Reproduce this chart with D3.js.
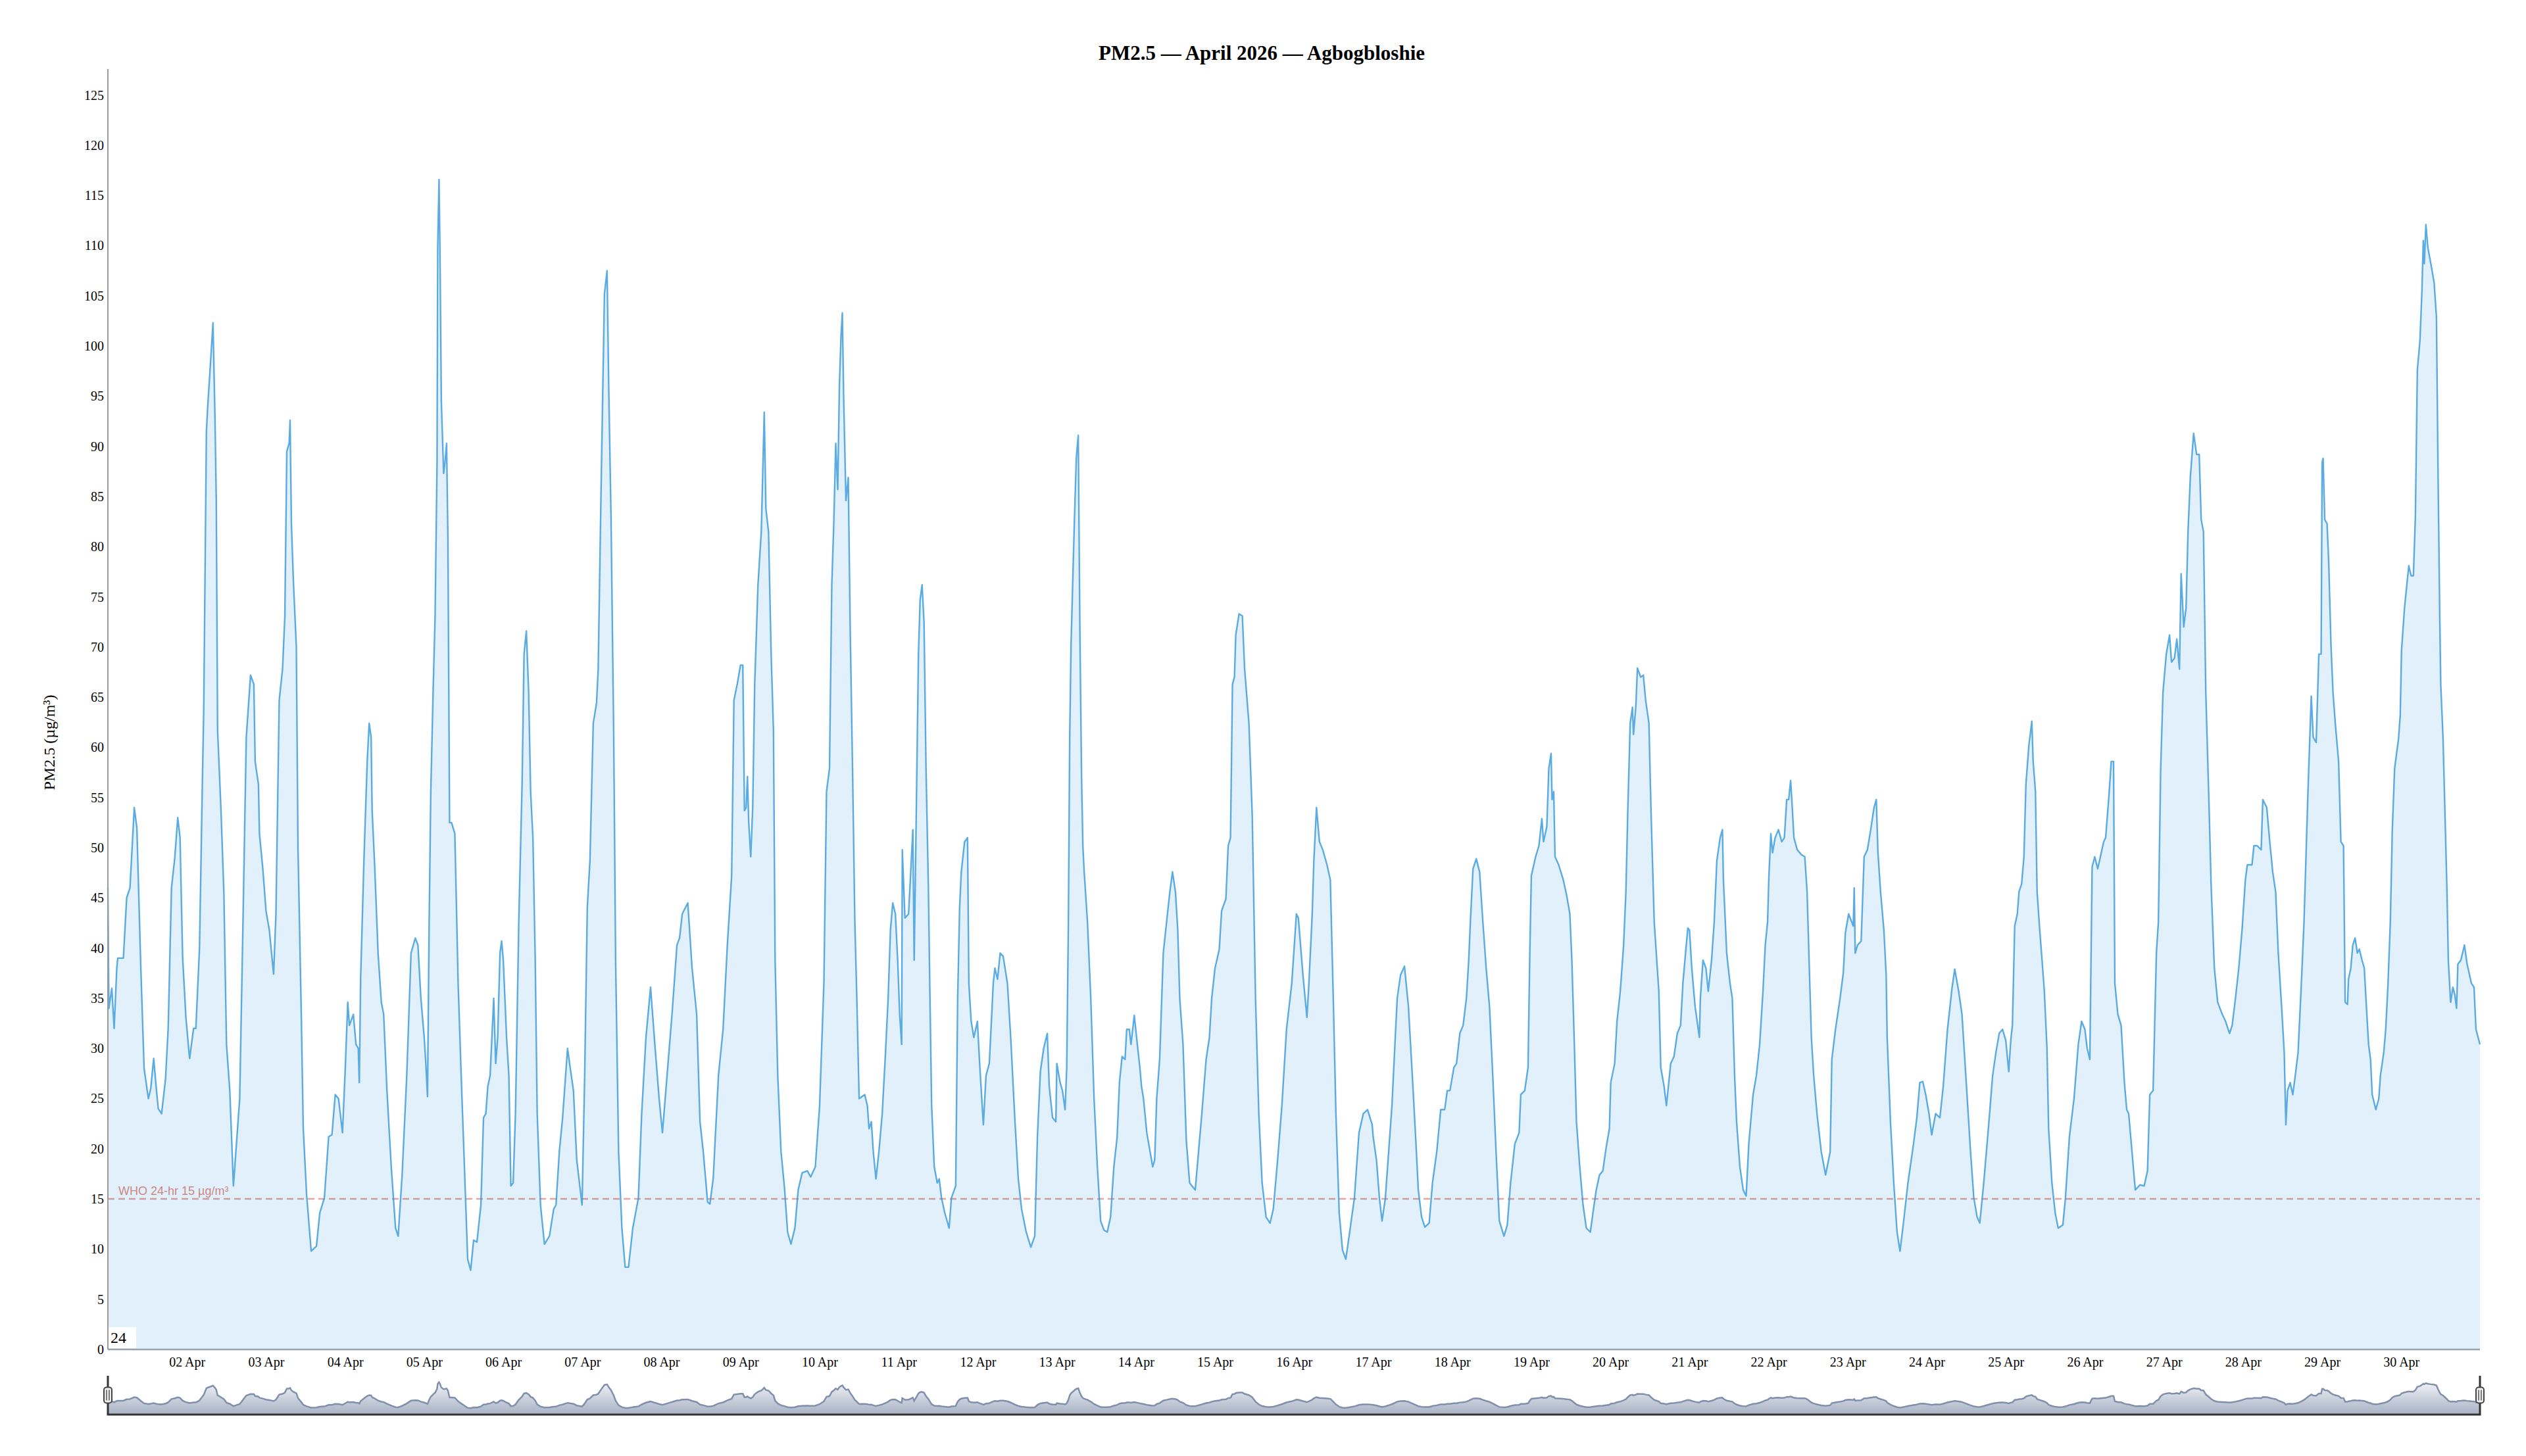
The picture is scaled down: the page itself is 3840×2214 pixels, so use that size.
<!DOCTYPE html>
<html>
<head>
<meta charset="utf-8">
<script src="https://cdn.jsdelivr.net/npm/d3@7"></script>
<style>
    body { margin: 0; background: #fff; }
    svg text { font-family: "Liberation Serif", "Times New Roman", serif; }
</style>
</head>
<body>
<div id="chart"></div>
<script>
"use strict"

/* Readings: [hours since 01 Apr 00:00, PM2.5 in µg/m³] */
const apr01to04 = [[0,46],[0.3,34],[1.2,36],[1.9,32],[2.7,38],[3,39],[4.7,39],[5.7,45],[6.7,46],[8,54],[8.8,52],[10,38],[11,28],[12.3,25],[13,26],[13.9,29],[14.7,26],[15.3,24],[16.3,23.5],[17.5,27],[18.3,32],[19.3,46],[20.3,49],[21.2,53],[21.9,51],[22.7,39],[23.7,33],[24.8,29],[26,32],[26.7,32],[27.8,40],[28.7,57],[29.1,64],[29.9,91.5],[30.3,94],[31,97.6],[31.9,102.3],[32.5,93],[32.9,84.6],[33.3,61.7],[34.3,54],[35.2,45.6],[36,30.4],[37,25.8],[38.1,16.3],[40,25],[41,42.6],[42,61],[43.3,67.2],[44.3,66.3],[44.7,58.6],[45.7,56.3],[46,51.4],[47,48],[48,43.7],[49,41.8],[50.3,37.4],[51,43.4],[51.3,49.8],[52,64.7],[53,67.8],[53.7,73],[54.3,89.5],[55,90.3],[55.3,92.6],[55.7,82.3],[56.3,76.6],[57.2,70],[57.7,50],[58.7,33.4],[59.3,22],[60.3,15.5],[61.7,9.8],[63.3,10.3],[64.3,13.6],[65.7,15.1],[67,21.2],[68,21.4],[69,25.4],[70,25],[71.2,21.6],[72,27.7],[72.8,34.6],[73.3,32.3],[74.5,33.4],[75.3,30.4],[76,30],[76.3,26.6],[76.7,36.9],[77.7,48.7],[78.7,58.6],[79.3,62.4],[79.9,61],[80.2,53.7],[81,48],[82,39.5],[83,34.6],[83.7,33.4],[84.7,25.8],[86,18.2],[87.3,12.1],[88.1,11.3],[89.3,17.4],[90.7,27.3],[92,39.5],[93.3,41],[94.1,40.3],[95,35]];

const apr05to08 = [[96,31.1],[96.5,28.5],[97,25.2],[97.5,42.6],[98,55.6],[98.7,65.5],[99.3,73],[99.9,88.4],[100.1,109.8],[100.5,116.6],[100.8,109],[101.2,94.5],[101.9,87.3],[102.3,88.4],[102.8,90.3],[103.2,80.8],[103.7,52.5],[104.3,52.5],[105.3,51.4],[106.3,36.5],[107.3,26.6],[108.3,17.4],[109.2,9],[110.1,7.9],[111,10.9],[112,10.7],[113.2,14.4],[114,23.1],[114.7,23.5],[115.3,26.2],[116,27.3],[117.1,35],[117.7,28.5],[118.3,31.1],[119,39.5],[119.5,40.7],[120,38.8],[121,31.1],[121.7,27.3],[122.3,16.3],[123,16.6],[123.7,23.5],[124.7,42.6],[125.7,56.3],[126.3,69.3],[127,71.6],[127.7,65.5],[128.3,55.6],[129,51],[129.7,38.8],[130.3,23.5],[131.3,14.4],[132.5,10.5],[134,11.3],[135.3,14],[136,14.4],[137,19.7],[138,23.1],[139.5,30],[140.3,28.1],[141.3,25.8],[142.3,18.9],[143.9,14.4],[144.7,27.3],[145.5,44.1],[146.3,48.7],[147.3,62.4],[148.3,64.4],[148.8,67.8],[149.7,86.1],[150.7,105.2],[151.5,107.5],[152,96],[152.7,83],[153.5,61.7],[154.1,38.8],[155,19.7],[156,12.1],[157,8.2],[158,8.2],[159.3,12.1],[161,15.1],[162,23.5],[163.3,31.1],[164.7,36.1],[166,30.4],[167.3,25],[168.3,21.6],[169.7,27.3],[171.3,33.8],[172.7,40.3],[173.5,41],[174.3,43.4],[176,44.5],[177.3,38],[178.7,33.4],[179.7,22.7],[180.7,19.7],[182,14.7],[182.7,14.5],[183.7,17],[185.3,27.3],[186.7,31.9],[188,40.3],[189.3,47.2],[190,64.7],[191,66.3]];

const apr09to12 = [[192,68.2],[192.7,68.2],[193.2,53.7],[193.7,54],[194.1,57.1],[194.5,52.5],[195.1,49.1],[195.7,54],[196.3,66.3],[197.3,76.2],[198.3,81.5],[199.2,93.4],[199.7,83.8],[200.5,81.5],[201.3,69.3],[202,61.7],[202.5,38.8],[203.3,27.3],[204.3,19.7],[205.3,16.3],[206.3,11.7],[207.3,10.5],[208.5,12.1],[209.5,15.9],[210.7,17.6],[212.3,17.8],[213.3,17.2],[214.7,18.2],[216,24.3],[217.3,36.5],[218.1,55.6],[219,57.9],[219.7,76.2],[220.3,82.3],[220.9,90.3],[221.5,85.7],[222,96],[222.5,101],[222.9,103.3],[223.3,94.9],[224,84.6],[224.7,86.9],[225.3,71.6],[226,57.9],[226.7,42.6],[227.3,35],[228,25],[229.7,25.4],[230.5,24.3],[231,22],[231.7,22.7],[232.3,19.7],[233.1,17],[234,19.7],[235,23.5],[236,29.6],[236.8,35],[237.5,41.8],[238.2,44.5],[239,43.4],[239.7,38.8],[240.3,33.4],[240.9,30.4],[241.1,49.8],[241.9,43],[243,43.4],[243.7,47.9],[244.3,51.8],[244.7,38.8],[245.2,50.2],[246,69.3],[246.5,74.7],[247.1,76.2],[247.7,72.4],[248.3,57.9],[249,46.4],[249.5,35],[250,24.3],[250.8,18.2],[251.7,16.6],[252.3,17],[253,15.1],[254,13.6],[255.3,12.1],[256,15.1],[257.3,16.3],[257.9,35],[258.5,44.1],[259,47.6],[260,50.6],[260.9,51],[261.3,36.5],[262,32.7],[262.8,31.1],[263.9,32.7],[264.5,28.9],[265.7,22.4],[266.5,27.3],[267.5,28.5],[268.7,36.5],[269.2,38],[270,36.9],[270.8,39.5],[271.7,39.2],[273,36.5],[274,31.1],[275.3,22.7],[276.3,17],[277.3,14],[278.7,11.7],[280.1,10.2],[281.3,11.3],[282.1,21.2],[283,27.7],[284,30],[285.1,31.5],[285.7,26.2],[286.7,23.1],[287.7,22.7]];

const apr13to16 = [[288,28.5],[289,26.6],[289.7,25.8],[290.5,23.9],[291,28.1],[291.5,42.6],[291.9,60.9],[292.3,70.1],[292.8,76.2],[293.3,82.3],[293.9,88.8],[294.5,91.1],[295,71.6],[295.5,57.1],[295.9,50.2],[296.3,47.6],[297.3,42.6],[298.3,35],[299.3,25],[300.3,18.2],[301.3,12.8],[302.3,11.9],[303.3,11.7],[304.3,13.2],[305.3,18.2],[306.3,21.2],[307,26.6],[307.8,29.2],[308.7,28.9],[309.2,31.9],[310,31.9],[310.5,30.4],[311.5,33.3],[312.3,30.8],[313.2,28.1],[313.7,26.2],[314.3,25],[315.3,21.6],[316.3,19.7],[317.1,18.2],[317.7,18.9],[318.3,25],[319.2,28.9],[320.3,39.5],[321.3,42.6],[322.3,45.6],[323.1,47.6],[324,45.6],[324.7,41.8],[325.3,35],[326.3,30.4],[327.3,20.8],[328.3,16.6],[330,15.9],[331,19.7],[332,23.5],[333.3,28.9],[334.3,31.1],[335,35],[336,38],[337.3,39.9],[338,43.7],[339.3,44.9],[340,50.2],[340.7,51],[341.3,66.3],[341.9,67],[342.3,71.2],[343.3,73.3],[344.3,73.1],[345,67.8],[346.3,62.4],[347.3,53.3],[348.3,35],[349.3,23.5],[350.3,16.6],[351.5,13.2],[352.7,12.6],[353.7,14],[355,18.9],[356.3,24.3],[357.7,31.9],[359.3,36.5],[360.7,43.4],[361.3,43],[362.7,37.3],[363.9,33.1],[364.5,36.5],[365.5,43.4],[366,48.7],[366.8,54],[367.7,50.6],[368.7,49.8],[370,48.3],[371,46.8],[371.9,35],[372.7,23.5],[373.7,13.6],[374.7,9.9],[375.7,9],[376.7,11.3],[378.3,15.1],[379.7,21.6],[381,23.5],[382.3,23.9],[383.7,22.4]];

const apr17to20 = [[384,21.2],[385,18.9],[385.9,15.1],[386.7,12.8],[387.7,15.1],[388.7,19.7],[389.7,24.3],[390.7,31.1],[391.3,35],[392.3,37.3],[393.5,38.2],[394.7,34.2],[396,26.6],[397,20.5],[397.7,15.9],[398.7,13.2],[399.7,12.2],[401,12.6],[402,16.6],[403.3,19.7],[404.5,23.9],[405.7,23.9],[406.5,25.8],[407.3,25.8],[408.5,28.1],[409.3,28.5],[410.3,31.5],[411.3,32.3],[412.3,35],[413,38.8],[413.5,42.6],[414.3,47.9],[415.3,48.9],[416.3,47.6],[417.3,42.6],[418.3,38],[419.3,34.2],[420.3,27.3],[421.3,19.7],[422.3,12.8],[423.7,11.3],[424.7,12.4],[425.7,16.6],[427,20.5],[428.3,21.6],[428.8,25.4],[430,25.8],[431,28.1],[431.5,38.8],[432,47.2],[433.3,49.1],[434.3,50.2],[435.2,52.9],[435.7,50.6],[436.7,52.1],[437.3,57.9],[438,59.4],[438.3,54.8],[438.8,55.6],[439.2,49.1],[440.3,48.3],[441.7,46.8],[442.7,45.3],[443.7,43.4],[444.3,38.8],[445,31.1],[445.7,22.7],[446.7,18.2],[447.7,14.4],[448.7,12.1],[449.9,11.7],[450.7,13.6],[451.7,15.9],[452.7,17.4],[453.7,17.8],[454.7,20.1],[455.7,22],[456.1,26.6],[457.3,28.5],[458,32.7],[459,35.7],[460,40.3],[460.7,45.6],[461.3,54],[462,62.4],[462.7,64],[463,61.3],[463.7,64],[464.2,67.9],[465.2,67],[466,67.2],[466.7,64.7],[467.7,62.4],[468.3,54],[469.3,42.6],[470.7,35.7],[471.3,28.1],[472.3,26.2],[473,24.3],[474.3,28.5],[475.3,29.2],[476.3,31.5],[477.3,32.3],[478,36.5],[478.8,39.5],[479.5,42]];

const apr21to24 = [[480,41.8],[480.7,38],[481.7,34.2],[483,31.1],[483.3,35],[484.1,38.8],[485,38],[485.7,35.7],[486.7,38.8],[487.5,42.6],[488.3,48.7],[489.3,51],[490,51.8],[490.3,46.8],[491.3,39.5],[492.3,36.5],[493,35],[493.7,27.3],[494.3,22.7],[495.3,18.2],[496.3,15.9],[497.2,15.3],[498,20.5],[499.3,25.4],[500.3,27.3],[501.3,30.4],[502.3,35.7],[503,40.3],[503.7,42.6],[504.1,47.2],[504.7,51.4],[505.2,49.5],[506,51],[507,51.8],[508,50.6],[508.8,51],[509.5,54.8],[510.1,54.8],[510.7,56.7],[511.2,54],[511.7,51],[512.7,49.8],[514,49.3],[515,49.1],[515.7,45.6],[516.3,38.8],[517,31.1],[517.7,27.3],[518.7,23.5],[520,19.7],[521.3,17.4],[522.7,19.7],[523.2,28.9],[524.3,31.9],[525.7,35],[526.7,37.6],[527.3,41.5],[528.3,43.4],[529.7,42.2],[530,46],[530.3,39.5],[531,40.3],[532.1,40.7],[533,49.1],[534,49.8],[535,51.8],[536,54],[536.7,54.8],[537.2,49.5],[538,45.6],[539,41.8],[539.7,37.3],[540,31.1],[541,22.7],[542,16.6],[543,11.7],[543.9,9.8],[545,12.8],[546.3,16.6],[548,20.5],[549,23.1],[549.9,26.6],[550.8,26.7],[551.7,25.4],[552.7,23.5],[553.5,21.4],[554.7,23.5],[556,23.1],[557,26.2],[558.3,31.9],[559.7,36.1],[560.5,37.9],[561.7,35.7],[562.7,33.4],[564,26.6],[565.3,19.7],[566.3,15.1],[567.3,13.2],[568.1,12.6],[569.3,16.6],[570.7,22],[572,27.3],[573,29.6],[574,31.5],[575,31.9]];

const apr25to28 = [[576,30.8],[576.9,27.7],[577.5,30.8],[578,32.3],[578.7,42.2],[579.5,43.4],[580,45.6],[580.8,46.4],[581.5,49.1],[582.1,56.3],[583,60.2],[583.9,62.6],[584.3,58.6],[585,55.6],[585.5,45.6],[586.3,41.8],[587,38.8],[587.7,35.7],[588.5,30],[589,22],[590,16.6],[591,13.6],[591.9,12.1],[593.3,12.4],[594.1,15.1],[595.3,21.2],[596.7,25],[598,30.4],[599,32.7],[600,31.9],[600.7,30],[601.5,28.9],[602.2,48.1],[603,49.1],[603.9,47.9],[604.7,49.1],[605.7,50.6],[606.3,51],[607.3,55.2],[608,58.6],[608.7,58.6],[609.1,36.5],[610,33.4],[611,32.3],[612,26.6],[612.7,23.9],[613.3,23.5],[614.3,19.7],[615.3,15.9],[616.7,16.4],[618,16.3],[619,17.8],[619.7,25.4],[620.7,25.8],[621.7,39.5],[622.3,42.6],[623,57.9],[623.7,65.5],[624.7,69.3],[625.7,71.2],[626.3,68.5],[627.2,68.9],[627.9,70.8],[628.7,67.8],[629.2,77.3],[630,72],[630.7,73.9],[631.3,81.5],[632,86.9],[633,91.3],[633.9,89.2],[634.7,89.2],[635.3,82.7],[636,81.5],[636.7,65.5],[637.7,54],[638.3,46.4],[639.3,38],[640.3,34.6],[641.7,33.4],[642.7,32.7],[643.9,31.5],[644.7,32.3],[645.7,35],[646.7,38],[647.7,41.8],[648.7,46.8],[649.3,48.3],[650.7,48.3],[651.3,50.2],[652.3,50.2],[653.5,49.8],[654,54.8],[655.2,54],[656,51],[657,47.6],[657.9,45.6],[658.7,39.5],[659.7,34.2],[660.5,29.6],[661,22.4],[661.5,25.8],[662.3,26.6],[663.1,25.4],[664,27.7],[664.7,29.6],[665.7,36.5],[666.5,42.6],[667.7,55.6],[668.7,65.1],[669.3,61],[670.2,60.5],[671,69.3],[671.7,69.3]];

const apr29to30 = [[672,88.4],[672.3,88.8],[672.8,82.7],[673.5,82.3],[674,78.5],[674.7,70.1],[675.3,65.5],[676,62.4],[677,58.6],[677.7,50.6],[678.5,50.2],[679,34.6],[679.7,34.4],[680,36.9],[680.7,38],[681.3,40.3],[682,41],[682.7,39.5],[683.3,39.9],[684.1,38.8],[684.8,38],[685.3,35],[686.1,30.4],[686.7,28.9],[687.2,25.4],[688.3,23.9],[689.2,25],[689.7,27.3],[690.7,29.6],[691.3,31.9],[692,36.5],[692.7,42.6],[693.3,51.8],[694,57.9],[695.2,60.9],[695.7,63.2],[696.1,69.7],[697,73.9],[697.7,76.2],[698.3,78.1],[699,77.1],[699.7,77.1],[700.3,83],[700.9,97.6],[701.7,100.6],[702.3,105.6],[702.7,110.5],[703,108.2],[703.5,112.1],[704.1,109.8],[705,108.2],[706,106.3],[706.7,102.9],[707.2,86.9],[707.7,73.1],[708,66.3],[708.7,60.9],[709.3,53.3],[709.9,45.6],[710.3,38.8],[711,34.6],[711.7,36.1],[712.3,35.3],[712.8,34],[713.2,38.4],[714.1,38.8],[715.2,40.3],[716,38.4],[717.3,36.5],[718.1,36.1],[718.7,31.9],[719.9,30.4]];

/* Axis ticks, reference line and labels */
const yTicks = d3.range(0, 126, 5);
const tickDays = d3.range(2, 31);
const whoLimit = 15;
const whoLabel = "WHO 24-hr 15 µg/m³";
const rollPeriod = "24";
const chartTitle = "PM2.5 — April 2026 — Agbogbloshie";
const yTitle = "PM2.5 (µg/m³)";

const monthStart = Date.UTC(2026, 3, 1);
let readings = [].concat(apr01to04, apr05to08, apr09to12, apr13to16,
                         apr17to20, apr21to24, apr25to28, apr29to30)
    .map(d => ({ t: new Date(monthStart + d[0] * 3600e3), v: d[1] }))
    .sort((a, b) => a.t - b.t);

/* Canvas */
let svg = d3.select("#chart")
    .append("svg")
    .attr("width", 3840)
    .attr("height", 2214);

svg.append("rect")
    .attr("width", 3840)
    .attr("height", 2214)
    .attr("fill", "#fff");

/* Plot box */
let plotLeft = 164, plotRight = 3770, plotTop = 105, plotBottom = 2052;

let x = d3.scaleUtc()
    .domain(d3.extent(readings, d => d.t))
    .range([plotLeft, plotRight]);

let y = d3.scaleLinear()
    .domain([0, 127.6])
    .range([plotBottom, plotTop]);

/* Filled series */
let area = d3.area()
    .x(d => x(d.t))
    .y0(y(0))
    .y1(d => y(d.v));

let line = d3.line()
    .x(d => x(d.t))
    .y(d => y(d.v));

svg.append("path")
    .datum(readings)
    .attr("d", area)
    .attr("fill", "#3498db")
    .attr("fill-opacity", 0.15);

/* WHO guideline */
svg.append("line")
    .attr("x1", plotLeft)
    .attr("x2", plotRight)
    .attr("y1", y(whoLimit))
    .attr("y2", y(whoLimit))
    .attr("stroke", "#c0392b")
    .attr("stroke-opacity", 0.45)
    .attr("stroke-width", 2.5)
    .attr("stroke-dasharray", "10,6");

svg.append("text")
    .attr("x", plotLeft + 16)
    .attr("y", y(whoLimit) - 6)
    .attr("fill", "#c0392b")
    .attr("fill-opacity", 0.6)
    .style("font-family", "'Liberation Sans', Arial, sans-serif")
    .style("font-size", "18px")
    .text(whoLabel);

svg.append("path")
    .datum(readings)
    .attr("d", line)
    .attr("fill", "none")
    .attr("stroke", "#3498db")
    .attr("stroke-opacity", 0.8)
    .attr("stroke-width", 2.4)
    .attr("stroke-linejoin", "round");

/* Axes */
let yAxis = svg.append("g")
    .attr("transform", `translate(${plotLeft},0)`)
    .call(d3.axisLeft(y).tickValues(yTicks).tickSize(0).tickPadding(6));
yAxis.select(".domain").remove();
yAxis.selectAll("text")
    .style("font-size", "20px")
    .attr("fill", "#000");

let xAxis = svg.append("g")
    .attr("transform", `translate(0,${plotBottom})`)
    .call(d3.axisBottom(x)
        .tickValues(tickDays.map(d => new Date(Date.UTC(2026, 3, d))))
        .tickFormat(d3.utcFormat("%d %b"))
        .tickSize(0)
        .tickPadding(12));
xAxis.select(".domain").remove();
xAxis.selectAll("text")
    .style("font-size", "20px")
    .attr("fill", "#000");

svg.append("line")
    .attr("x1", plotLeft).attr("x2", plotLeft)
    .attr("y1", plotTop).attr("y2", plotBottom)
    .attr("stroke", "#9a9a9a")
    .attr("stroke-width", 2);

svg.append("line")
    .attr("x1", plotLeft).attr("x2", plotRight)
    .attr("y1", plotBottom).attr("y2", plotBottom)
    .attr("stroke", "#9aa3ad")
    .attr("stroke-width", 2.5);

/* Titles */
svg.append("text")
    .attr("x", 1918)
    .attr("y", 91)
    .attr("text-anchor", "middle")
    .style("font-size", "31px")
    .style("font-weight", "bold")
    .text(chartTitle);

svg.append("text")
    .attr("transform", "translate(83,1129) rotate(-90)")
    .attr("text-anchor", "middle")
    .style("font-size", "24px")
    .text(yTitle);

/* Roll period box */
svg.append("rect")
    .attr("x", plotLeft + 1)
    .attr("y", 2018)
    .attr("width", 42)
    .attr("height", 32)
    .attr("fill", "#fff");

svg.append("text")
    .attr("x", plotLeft + 4)
    .attr("y", 2042)
    .style("font-size", "24px")
    .text(rollPeriod);

/* Range selector */
let navTop = 2092, navBottom = 2151;
let vMin = d3.min(readings, d => d.v), vMax = d3.max(readings, d => d.v);
let extra = (vMax - vMin) * 0.25;

let navY = d3.scaleLinear()
    .domain([vMin - extra, vMax + extra])
    .range([navBottom, navTop]);

let grad = svg.append("defs").append("linearGradient")
    .attr("id", "navFill")
    .attr("gradientUnits", "userSpaceOnUse")
    .attr("x1", 0).attr("x2", 0)
    .attr("y1", navTop).attr("y2", navBottom);
grad.append("stop").attr("offset", 0).attr("stop-color", "#ffffff");
grad.append("stop").attr("offset", 1).attr("stop-color", "#a7b1c4");

svg.append("path")
    .datum(readings)
    .attr("d", d3.area().x(d => x(d.t)).y0(navBottom).y1(d => navY(d.v)))
    .attr("fill", "url(#navFill)");

svg.append("path")
    .datum(readings)
    .attr("d", d3.line().x(d => x(d.t)).y(d => navY(d.v)))
    .attr("fill", "none")
    .attr("stroke", "#808fab")
    .attr("stroke-width", 2.5);

svg.append("path")
    .attr("d", `M${plotLeft},${navTop}V${navBottom}H${plotRight}V${navTop}`)
    .attr("fill", "none")
    .attr("stroke", "#333")
    .attr("stroke-width", 3);

/* Handles */
[plotLeft, plotRight].forEach(hx => {
    let h = svg.append("g").attr("transform", `translate(${hx},${(navTop + navBottom) / 2})`);
    h.append("rect")
        .attr("x", -6).attr("y", -12)
        .attr("width", 12).attr("height", 24)
        .attr("rx", 4)
        .attr("fill", "#eeeeee")
        .attr("stroke", "#444")
        .attr("stroke-width", 2);
    [-2, 2].forEach(dx => {
        h.append("line")
            .attr("x1", dx).attr("x2", dx)
            .attr("y1", -8).attr("y2", 8)
            .attr("stroke", "#555")
            .attr("stroke-width", 1.5);
    });
});
</script>
</body>
</html>
